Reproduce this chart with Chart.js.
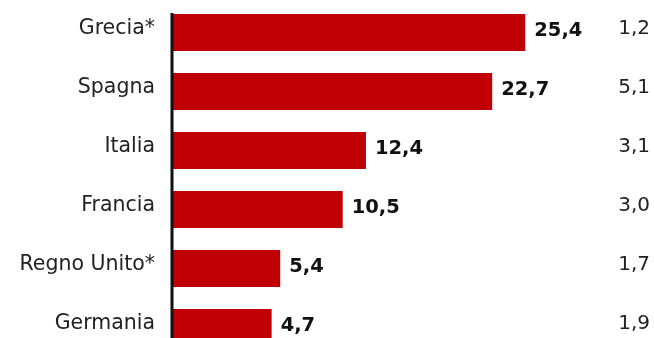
<!DOCTYPE html>
<html>
<head>
<meta charset="utf-8">
<script src="https://cdn.jsdelivr.net/npm/chart.js@4/dist/chart.umd.min.js"></script>
<style>
  html, body { margin: 0; padding: 0; background: #fff; overflow: hidden; }
  canvas { display: block; }
</style>
</head>
<body>
<canvas id="myChart" width="654" height="360"></canvas>
<script>
// Data
const countries = ['Grecia*', 'Spagna', 'Italia', 'Francia', 'Regno Unito*', 'Germania'];
const mainValues = [25.4, 22.7, 12.4, 10.5, 5.4, 4.7];
const sideValues = [1.2, 5.1, 3.1, 3.0, 1.7, 1.9];

// bars start a bit left of zero, like in the original
const X_MIN = -3.35;
const X_MAX = 31.5;

const fmt = v => v.toFixed(1).replace('.', ',');

const labelsPlugin = {
    id: 'labelsPlugin',
    afterDatasetsDraw(chart) {
        const ctx = chart.ctx;
        const meta = chart.getDatasetMeta(0);
        const x0 = chart.scales.x.getPixelForValue(X_MIN);

        // axis line
        const first = meta.data[0];
        ctx.save();
        ctx.strokeStyle = '#111';
        ctx.lineWidth = 3;
        ctx.beginPath();
        ctx.moveTo(x0 - 1, first.y - first.height / 2 - 1);
        ctx.lineTo(x0 - 1, chart.height);
        ctx.stroke();

        ctx.textBaseline = 'middle';
        meta.data.forEach((bar, i) => {
            // value after the bar
            ctx.fillStyle = '#111';
            ctx.font = 'bold 19.5px "DejaVu Sans"';
            ctx.textAlign = 'left';
            ctx.fillText(fmt(mainValues[i]), bar.x + 9, bar.y - 2);

            // right column
            ctx.fillStyle = '#222';
            ctx.font = '20px "DejaVu Sans"';
            ctx.textAlign = 'right';
            ctx.fillText(fmt(sideValues[i]), chart.width - 4, bar.y - 4);
        });
        ctx.restore();
    }
};

const ctx = document.getElementById('myChart').getContext('2d');
const myChart = new Chart(ctx, {
    type: 'bar',
    data: {
        labels: countries,
        datasets: [{
            data: mainValues,
            base: X_MIN,
            backgroundColor: '#c10006',
            borderWidth: 0,
            barPercentage: 0.63,
            categoryPercentage: 1
        }]
    },
    options: {
        indexAxis: 'y',
        responsive: false,
        animation: false,
        layout: { padding: { top: 3, bottom: 3, left: 0, right: 54 } },
        scales: {
            x: {
                display: false,
                min: X_MIN,
                max: X_MAX
            },
            y: {
                grid: { display: false, drawTicks: false },
                border: { display: false },
                ticks: {
                    color: '#222',
                    padding: 18,
                    labelOffset: -4,
                    font: { family: 'DejaVu Sans', size: 20.5 }
                },
                afterFit: function (scale) {
                    scale.width = 173;
                    scale.paddingTop = 0;
                    scale.paddingBottom = 0;
                }
            }
        },
        plugins: {
            legend: { display: false },
            tooltip: { enabled: false }
        }
    },
    plugins: [labelsPlugin]
});
</script>
</body>
</html>
